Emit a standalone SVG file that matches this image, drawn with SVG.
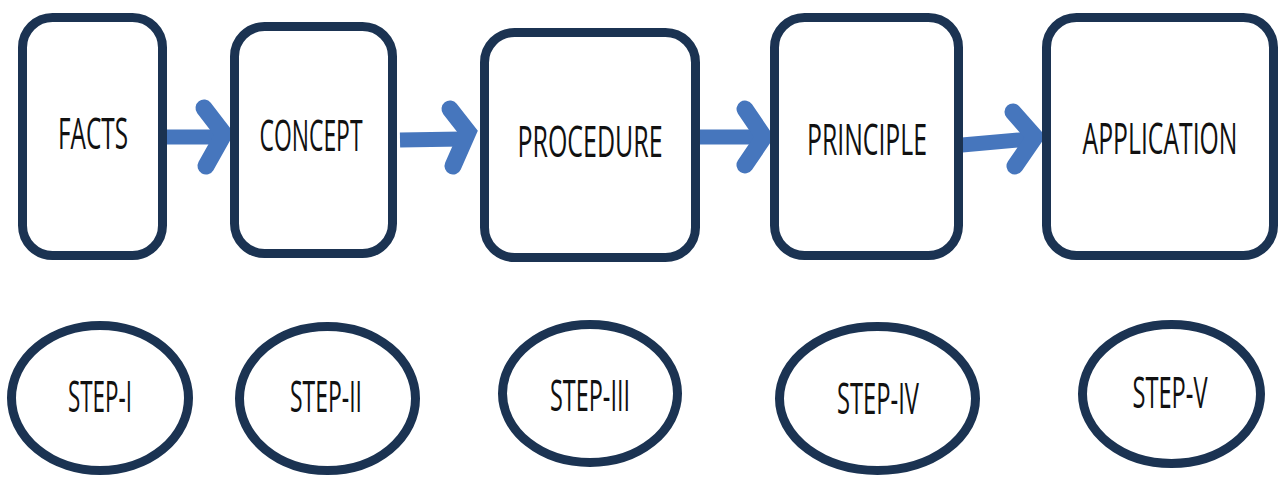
<svg xmlns="http://www.w3.org/2000/svg" width="1280" height="477" viewBox="0 0 1280 477">
<style>
.box{fill:#ffffff;stroke:#1b3352;stroke-width:9}
.oval{fill:#ffffff;stroke:#1b3352;stroke-width:9}
.lbl{font-family:"Open Sans","Liberation Sans",sans-serif;font-size:27px;fill:#111111;text-anchor:middle}
.shaft{stroke:#4676bd;stroke-width:15;fill:none}
.head{stroke:#4676bd;stroke-width:17;fill:none;stroke-linecap:round;stroke-linejoin:miter;stroke-miterlimit:10}
</style>
<rect width="1280" height="477" fill="#ffffff"/>
<g id="connectors">
<line class="shaft" x1="166" y1="137" x2="222" y2="137"/>
<polyline class="head" points="204,108 224,134 206,166"/>
<line class="shaft" x1="400" y1="140" x2="462" y2="139"/>
<polyline class="head" points="450,109 468,132 453,166"/>
<line class="shaft" x1="699" y1="137" x2="760" y2="137"/>
<polyline class="head" points="745,109 764,137 745,165"/>
<line class="shaft" x1="962" y1="145" x2="1030" y2="139"/>
<polyline class="head" points="1013,112 1035,137 1015,166"/>
</g>
<g id="facts"><rect class="box" x="22.5" y="17.5" width="140" height="238" rx="30"/><text class="lbl" transform="translate(93,149) scale(1,1.65)" textLength="70" lengthAdjust="spacingAndGlyphs">FACTS</text></g>
<g id="concept"><rect class="box" x="234.5" y="26.5" width="158" height="227" rx="30"/><text class="lbl" transform="translate(311,151) scale(1,1.65)" textLength="103" lengthAdjust="spacingAndGlyphs">CONCEPT</text></g>
<g id="procedure"><rect class="box" x="484.5" y="32.5" width="211" height="225" rx="30"/><text class="lbl" transform="translate(590,157) scale(1,1.65)" textLength="145" lengthAdjust="spacingAndGlyphs">PROCEDURE</text></g>
<g id="principle"><rect class="box" x="774.5" y="17.5" width="184" height="238" rx="30"/><text class="lbl" transform="translate(867,155) scale(1,1.65)" textLength="120" lengthAdjust="spacingAndGlyphs">PRINCIPLE</text></g>
<g id="application"><rect class="box" x="1046.5" y="17.5" width="227" height="238" rx="30"/><text class="lbl" transform="translate(1160,154) scale(1,1.65)" textLength="155" lengthAdjust="spacingAndGlyphs">APPLICATION</text></g>
<g id="step1"><ellipse class="oval" cx="100" cy="398" rx="88.5" ry="72.5"/><text class="lbl" transform="translate(100,412) scale(1,1.65)" textLength="64" lengthAdjust="spacingAndGlyphs">STEP-I</text></g>
<g id="step2"><ellipse class="oval" cx="327.5" cy="398.5" rx="88" ry="72"/><text class="lbl" transform="translate(326,412) scale(1,1.65)" textLength="72" lengthAdjust="spacingAndGlyphs">STEP-II</text></g>
<g id="step3"><ellipse class="oval" cx="590" cy="393.5" rx="87.5" ry="69"/><text class="lbl" transform="translate(590,411) scale(1,1.65)" textLength="80" lengthAdjust="spacingAndGlyphs">STEP-III</text></g>
<g id="step4"><ellipse class="oval" cx="877.5" cy="398.5" rx="98" ry="72"/><text class="lbl" transform="translate(878,414) scale(1,1.65)" textLength="82" lengthAdjust="spacingAndGlyphs">STEP-IV</text></g>
<g id="step5"><ellipse class="oval" cx="1171.5" cy="394" rx="89" ry="69.5"/><text class="lbl" transform="translate(1170,408) scale(1,1.65)" textLength="75" lengthAdjust="spacingAndGlyphs">STEP-V</text></g>
</svg>
